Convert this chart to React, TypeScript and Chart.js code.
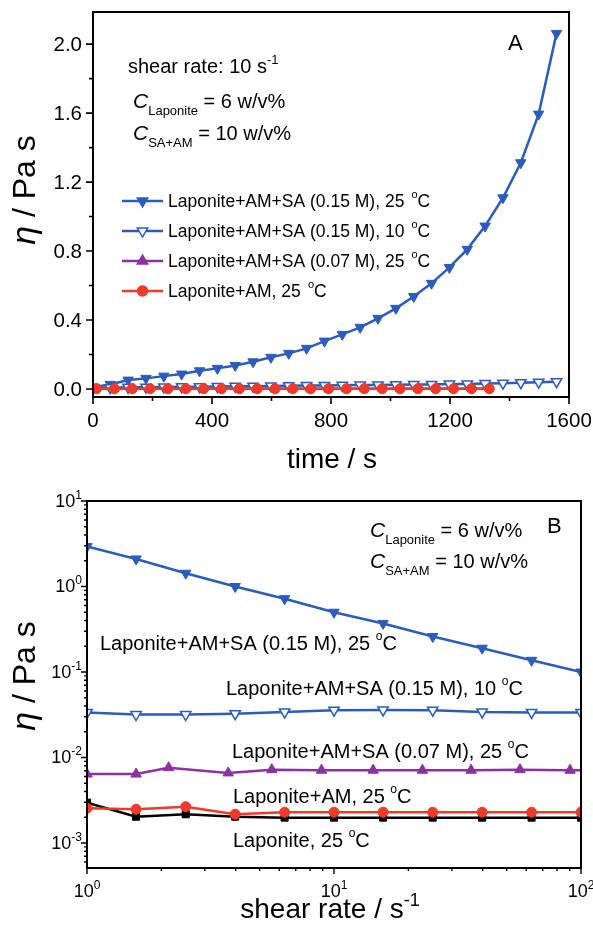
import React, { useEffect, useRef } from "react";
import { Chart, registerables } from "chart.js";
Chart.register(...registerables);

const BLUE = "#2B5CBD";
const PURPLE = "#8A33A0";
const RED = "#EE3A2C";
const BLACK = "#000000";
const FONT = '"Liberation Sans", Arial, Helvetica, sans-serif';

// ---------- Panel A: viscosity vs time (shear rate 10 s^-1) ----------
const timeBlue = [0, 58, 118, 178, 238, 298, 358, 418, 478, 538, 598, 658, 718, 778, 838, 898, 958, 1018, 1078, 1138, 1198, 1258, 1318, 1378, 1438, 1498, 1558];
const etaSA015_25_A = [0.012, 0.027, 0.052, 0.062, 0.075, 0.087, 0.106, 0.12, 0.137, 0.158, 0.184, 0.207, 0.236, 0.278, 0.317, 0.358, 0.41, 0.468, 0.537, 0.613, 0.705, 0.81, 0.945, 1.109, 1.312, 1.594, 2.062];
const etaSA015_10_A = [0.006, 0.008, 0.01, 0.011, 0.012, 0.013, 0.014, 0.015, 0.016, 0.017, 0.018, 0.019, 0.02, 0.021, 0.022, 0.023, 0.024, 0.025, 0.026, 0.027, 0.029, 0.03, 0.032, 0.034, 0.037, 0.04, 0.043];
const timeRed = [12, 72, 132, 192, 252, 312, 372, 432, 492, 552, 612, 672, 732, 792, 852, 912, 972, 1032, 1092, 1152, 1212, 1272, 1332];
const etaSA007_25_A = [0.003, 0.003, 0.003, 0.003, 0.003, 0.003, 0.003, 0.003, 0.003, 0.003, 0.003, 0.003, 0.003, 0.003, 0.003, 0.003, 0.003, 0.003, 0.003, 0.003, 0.003, 0.003, 0.003];
const etaAM_25_A = [0.002, 0.002, 0.002, 0.002, 0.002, 0.002, 0.002, 0.002, 0.002, 0.002, 0.002, 0.002, 0.002, 0.002, 0.002, 0.002, 0.002, 0.002, 0.002, 0.002, 0.002, 0.002, 0.002];
const xMajorA = [0, 400, 800, 1200, 1600];
const xTickLabelsA = ["0", "400", "800", "1200", "1600"];
const xMinorA = [200, 600, 1000, 1400];
const yMajorA = [0, 0.4, 0.8, 1.2, 1.6, 2.0];
const yTickLabelsA = ["0.0", "0.4", "0.8", "1.2", "1.6", "2.0"];
const yMinorA = [0.2, 0.6, 1.0, 1.4, 1.8];

// ---------- Panel B: viscosity vs shear rate ----------
const shearRates = [1, 1.58, 2.51, 3.98, 6.31, 10, 15.8, 25.1, 39.8, 63.1, 100];
const etaSA015_25_B = [2.93, 2.1, 1.43, 1.0, 0.72, 0.5, 0.37, 0.26, 0.19, 0.137, 0.1];
const etaSA015_10_B = [0.0336, 0.0318, 0.0318, 0.0325, 0.0341, 0.0357, 0.036, 0.0357, 0.0341, 0.0336, 0.0336];
const shearRatesSA007 = [1, 1.58, 2.14, 3.73, 5.6, 8.9, 14.4, 22.8, 35.9, 56.6, 90.3, 100];
const etaSA007_25_B = [0.0064, 0.0064, 0.0076, 0.0066, 0.0072, 0.0071, 0.0071, 0.0071, 0.0071, 0.0072, 0.0071, 0.0071];
const etaAM_25_B = [0.00255, 0.00248, 0.00266, 0.00217, 0.00229, 0.00229, 0.00229, 0.00229, 0.00229, 0.00229, 0.00229];
const etaLap_25_B = [0.00296, 0.00203, 0.00217, 0.00203, 0.00198, 0.00198, 0.00198, 0.00198, 0.00198, 0.00198, 0.00198];
const xDecadesB = [1, 10, 100];
const xExpLabelsB = ["0", "1", "2"];
const yDecadesB = [0.001, 0.01, 0.1, 1, 10];
const yExpLabelsB = ["-3", "-2", "-1", "0", "1"];

type Part = { t: string; s: number; dy?: number; it?: boolean };

function rich(ctx: CanvasRenderingContext2D, parts: Part[], x: number, y: number, align: "left" | "center" | "right" = "left") {
  let w = 0;
  for (const p of parts) {
    ctx.font = `${p.it ? "italic " : ""}${p.s}px ${FONT}`;
    w += ctx.measureText(p.t).width;
  }
  let cx = align === "center" ? x - w / 2 : align === "right" ? x - w : x;
  ctx.textAlign = "left";
  ctx.textBaseline = "alphabetic";
  for (const p of parts) {
    ctx.font = `${p.it ? "italic " : ""}${p.s}px ${FONT}`;
    ctx.fillText(p.t, cx, y + (p.dy || 0));
    cx += ctx.measureText(p.t).width;
  }
}

function deg(s: number): Part[] {
  return [{ t: "o", s: Math.round(s * 0.62), dy: -Math.round(s * 0.5) }, { t: "C", s }];
}

function marker(ctx: CanvasRenderingContext2D, style: string, x: number, y: number, r: number, fill: string, stroke: string) {
  ctx.save();
  ctx.beginPath();
  if (style === "tri-down" || style === "tri-up") {
    const sgn = style === "tri-down" ? 1 : -1;
    ctx.moveTo(x, y + sgn * r);
    ctx.lineTo(x - r * 0.866, y - sgn * r * 0.5);
    ctx.lineTo(x + r * 0.866, y - sgn * r * 0.5);
    ctx.closePath();
  } else if (style === "circle") {
    ctx.arc(x, y, r, 0, Math.PI * 2);
  } else {
    ctx.rect(x - r * 0.8, y - r * 0.8, r * 1.6, r * 1.6);
  }
  ctx.fillStyle = fill;
  ctx.fill();
  ctx.lineWidth = 1.5;
  ctx.strokeStyle = stroke;
  ctx.stroke();
  ctx.restore();
}

function ChartA() {
  const ref = useRef<HTMLCanvasElement>(null);
  useEffect(() => {
    const canvas = ref.current!;
    const pts = (xs: number[], ys: number[]) => xs.map((x, i) => ({ x, y: ys[i] }));
    const plugin = {
      id: "panelA",
      afterDraw(chart: any) {
        const { ctx, chartArea: a, scales } = chart;
        const x = scales.x, y = scales.y;
        ctx.save();
        ctx.strokeStyle = "#000";
        ctx.lineWidth = 2;
        ctx.strokeRect(a.left, a.top, a.right - a.left, a.bottom - a.top);
        ctx.lineWidth = 1.6;
        ctx.beginPath();
        for (const v of xMajorA) { const p = x.getPixelForValue(v); ctx.moveTo(p, a.bottom); ctx.lineTo(p, a.bottom + 7); }
        for (const v of xMinorA) { const p = x.getPixelForValue(v); ctx.moveTo(p, a.bottom); ctx.lineTo(p, a.bottom + 4); }
        for (const v of yMajorA) { const p = y.getPixelForValue(v); ctx.moveTo(a.left, p); ctx.lineTo(a.left - 7, p); }
        for (const v of yMinorA) { const p = y.getPixelForValue(v); ctx.moveTo(a.left, p); ctx.lineTo(a.left - 4, p); }
        ctx.stroke();
        ctx.fillStyle = "#000";
        xMajorA.forEach((v, i) => rich(ctx, [{ t: xTickLabelsA[i], s: 20.5 }], x.getPixelForValue(v), a.bottom + 30, "center"));
        yMajorA.forEach((v, i) => rich(ctx, [{ t: yTickLabelsA[i], s: 20.5 }], a.left - 11, y.getPixelForValue(v) + 7, "right"));
        // axis titles
        rich(ctx, [{ t: "time / s", s: 28 }], 332, 468, "center");
        ctx.save();
        ctx.translate(35, 190);
        ctx.rotate(-Math.PI / 2);
        rich(ctx, [{ t: "η", s: 34, it: true }, { t: " / Pa s", s: 32 }], 0, 0, "center");
        ctx.restore();
        // annotations
        rich(ctx, [{ t: "shear rate: 10 s", s: 20 }, { t: "-1", s: 13, dy: -9 }], 128, 73);
        rich(ctx, [{ t: "C", s: 21, it: true }, { t: "Laponite", s: 13, dy: 7 }, { t: " = 6 w/v%", s: 20 }], 133, 108);
        rich(ctx, [{ t: "C", s: 21, it: true }, { t: "SA+AM", s: 13, dy: 7 }, { t: " = 10 w/v%", s: 20 }], 133, 140);
        rich(ctx, [{ t: "A", s: 22 }], 508, 50);
        // legend
        const leg = [
          { style: "tri-down", color: BLUE, fill: BLUE, text: "Laponite+AM+SA (0.15 M), 25 " },
          { style: "tri-down", color: BLUE, fill: "#fff", text: "Laponite+AM+SA (0.15 M), 10 " },
          { style: "tri-up", color: PURPLE, fill: PURPLE, text: "Laponite+AM+SA (0.07 M), 25 " },
          { style: "circle", color: RED, fill: RED, text: "Laponite+AM, 25 " },
        ];
        leg.forEach((l, i) => {
          const cy = 201 + i * 30;
          ctx.strokeStyle = l.color;
          ctx.lineWidth = 2.5;
          ctx.beginPath();
          ctx.moveTo(122, cy);
          ctx.lineTo(163, cy);
          ctx.stroke();
          marker(ctx, l.style, 142.5, cy, l.style === "circle" ? 5 : 6, l.fill, l.color);
          ctx.fillStyle = "#000";
          rich(ctx, [{ t: l.text, s: 17.5 }, { t: " ", s: 8 }, ...deg(17.5)], 168, cy + 6);
        });
        ctx.restore();
      },
    };
    const chart = new Chart(canvas, {
      type: "line",
      data: {
        datasets: [
          { data: pts(timeRed, etaAM_25_A), borderColor: RED, backgroundColor: RED, pointStyle: "circle", pointRadius: 5, borderWidth: 2.5, pointBorderWidth: 1 },
          { data: pts(timeRed, etaSA007_25_A), borderColor: PURPLE, backgroundColor: PURPLE, pointStyle: "triangle", pointRadius: 3, borderWidth: 2 },
          { data: pts(timeBlue, etaSA015_10_A), borderColor: BLUE, backgroundColor: "#fff", pointStyle: "triangle", pointRotation: 180, pointRadius: 6, borderWidth: 2.5, pointBorderWidth: 1.5 },
          { data: pts(timeBlue, etaSA015_25_A), borderColor: BLUE, backgroundColor: BLUE, pointStyle: "triangle", pointRotation: 180, pointRadius: 6, borderWidth: 2.5, pointBorderWidth: 1 },
        ],
      },
      options: {
        responsive: false,
        animation: false,
        devicePixelRatio: 1,
        layout: { padding: { left: 93, top: 12, right: 24, bottom: 73 } },
        plugins: { legend: { display: false }, tooltip: { enabled: false } },
        elements: { line: { tension: 0 } },
        scales: {
          x: { type: "linear", min: 0, max: 1600, display: false },
          y: { type: "linear", min: -0.046, max: 2.186, display: false },
        },
      },
      plugins: [plugin],
    } as any);
    return () => chart.destroy();
  }, []);
  return <canvas ref={ref} width={593} height={470} style={{ position: "absolute", left: 0, top: 0, width: 593, height: 470 }} />;
}

function ChartB() {
  const ref = useRef<HTMLCanvasElement>(null);
  useEffect(() => {
    const canvas = ref.current!;
    const pts = (xs: number[], ys: number[]) => ys.map((y, i) => ({ x: xs[i], y }));
    const plugin = {
      id: "panelB",
      afterDraw(chart: any) {
        const { ctx, chartArea: a, scales } = chart;
        const x = scales.x, y = scales.y;
        ctx.save();
        ctx.strokeStyle = "#000";
        ctx.lineWidth = 2;
        ctx.strokeRect(a.left, a.top, a.right - a.left, a.bottom - a.top);
        ctx.lineWidth = 1.4;
        ctx.beginPath();
        for (const d of xDecadesB) {
          const p = x.getPixelForValue(d);
          ctx.moveTo(p, a.bottom); ctx.lineTo(p, a.bottom + 6);
          for (let m = 2; m <= 9; m++) {
            const v = d * m;
            if (v > x.max) continue;
            const q = x.getPixelForValue(v);
            ctx.moveTo(q, a.bottom); ctx.lineTo(q, a.bottom + 3);
          }
        }
        for (const d of [0.0001, ...yDecadesB]) {
          const p = y.getPixelForValue(d);
          if (d >= y.min && d <= y.max) { ctx.moveTo(a.left, p); ctx.lineTo(a.left - 6, p); }
          for (let m = 2; m <= 9; m++) {
            const v = d * m;
            if (v < y.min || v > y.max) continue;
            const q = y.getPixelForValue(v);
            ctx.moveTo(a.left, q); ctx.lineTo(a.left - 3, q);
          }
        }
        ctx.stroke();
        ctx.fillStyle = "#000";
        xDecadesB.forEach((d, i) => rich(ctx, [{ t: "10", s: 18 }, { t: xExpLabelsB[i], s: 12, dy: -8 }], x.getPixelForValue(d), a.bottom + 29, "center"));
        yDecadesB.forEach((d, i) => rich(ctx, [{ t: "10", s: 18 }, { t: yExpLabelsB[i], s: 12, dy: -8 }], a.left - 5, y.getPixelForValue(d) + 6, "right"));
        rich(ctx, [{ t: "shear rate / s", s: 28 }, { t: "-1", s: 18, dy: -12 }], 330, 448, "center");
        ctx.save();
        ctx.translate(35, 206);
        ctx.rotate(-Math.PI / 2);
        rich(ctx, [{ t: "η", s: 34, it: true }, { t: " / Pa s", s: 32 }], 0, 0, "center");
        ctx.restore();
        rich(ctx, [{ t: "C", s: 21, it: true }, { t: "Laponite", s: 13, dy: 7 }, { t: " = 6 w/v%", s: 20 }], 370, 67);
        rich(ctx, [{ t: "C", s: 21, it: true }, { t: "SA+AM", s: 13, dy: 7 }, { t: " = 10 w/v%", s: 20 }], 370, 98);
        rich(ctx, [{ t: "B", s: 22 }], 547, 63);
        rich(ctx, [{ t: "Laponite+AM+SA (0.15 M), 25 ", s: 20 }, ...deg(20)], 100, 180);
        rich(ctx, [{ t: "Laponite+AM+SA (0.15 M), 10 ", s: 20 }, ...deg(20)], 226, 225);
        rich(ctx, [{ t: "Laponite+AM+SA (0.07 M), 25 ", s: 20 }, ...deg(20)], 232, 288);
        rich(ctx, [{ t: "Laponite+AM, 25 ", s: 20 }, ...deg(20)], 233, 333);
        rich(ctx, [{ t: "Laponite, 25 ", s: 20 }, ...deg(20)], 233, 377);
        ctx.restore();
      },
    };
    const chart = new Chart(canvas, {
      type: "line",
      data: {
        datasets: [
          { data: pts(shearRates, etaAM_25_B), borderColor: RED, backgroundColor: RED, pointStyle: "circle", pointRadius: 5, borderWidth: 2.5, pointBorderWidth: 1 },
          { data: pts(shearRates, etaLap_25_B), borderColor: BLACK, backgroundColor: BLACK, pointStyle: "rect", pointRadius: 5, borderWidth: 2.5, pointBorderWidth: 1 },
          { data: pts(shearRatesSA007, etaSA007_25_B), borderColor: PURPLE, backgroundColor: PURPLE, pointStyle: "triangle", pointRadius: etaSA007_25_B.map((_, i) => (i === etaSA007_25_B.length - 1 ? 0 : 6)), borderWidth: 2.5, pointBorderWidth: 1 },
          { data: pts(shearRates, etaSA015_10_B), borderColor: BLUE, backgroundColor: "#fff", pointStyle: "triangle", pointRotation: 180, pointRadius: 6, borderWidth: 2.5, pointBorderWidth: 1.5 },
          { data: pts(shearRates, etaSA015_25_B), borderColor: BLUE, backgroundColor: BLUE, pointStyle: "triangle", pointRotation: 180, pointRadius: 6, borderWidth: 2.5, pointBorderWidth: 1 },
        ],
      },
      options: {
        responsive: false,
        animation: false,
        devicePixelRatio: 1,
        layout: { padding: { left: 87, top: 31, right: 12, bottom: 58 } },
        plugins: { legend: { display: false }, tooltip: { enabled: false } },
        elements: { line: { tension: 0 } },
        scales: {
          x: { type: "logarithmic", min: 1, max: 100, display: false },
          y: { type: "logarithmic", min: 0.00051, max: 10, display: false },
        },
      },
      plugins: [plugin],
    } as any);
    return () => chart.destroy();
  }, []);
  return <canvas ref={ref} width={593} height={456} style={{ position: "absolute", left: 0, top: 470, width: 593, height: 456 }} />;
}

export default function App() {
  return (
    <div style={{ position: "fixed", left: 0, top: 0, width: 593, height: 926, background: "#fff", overflow: "hidden" }}>
      <ChartA />
      <ChartB />
    </div>
  );
}
